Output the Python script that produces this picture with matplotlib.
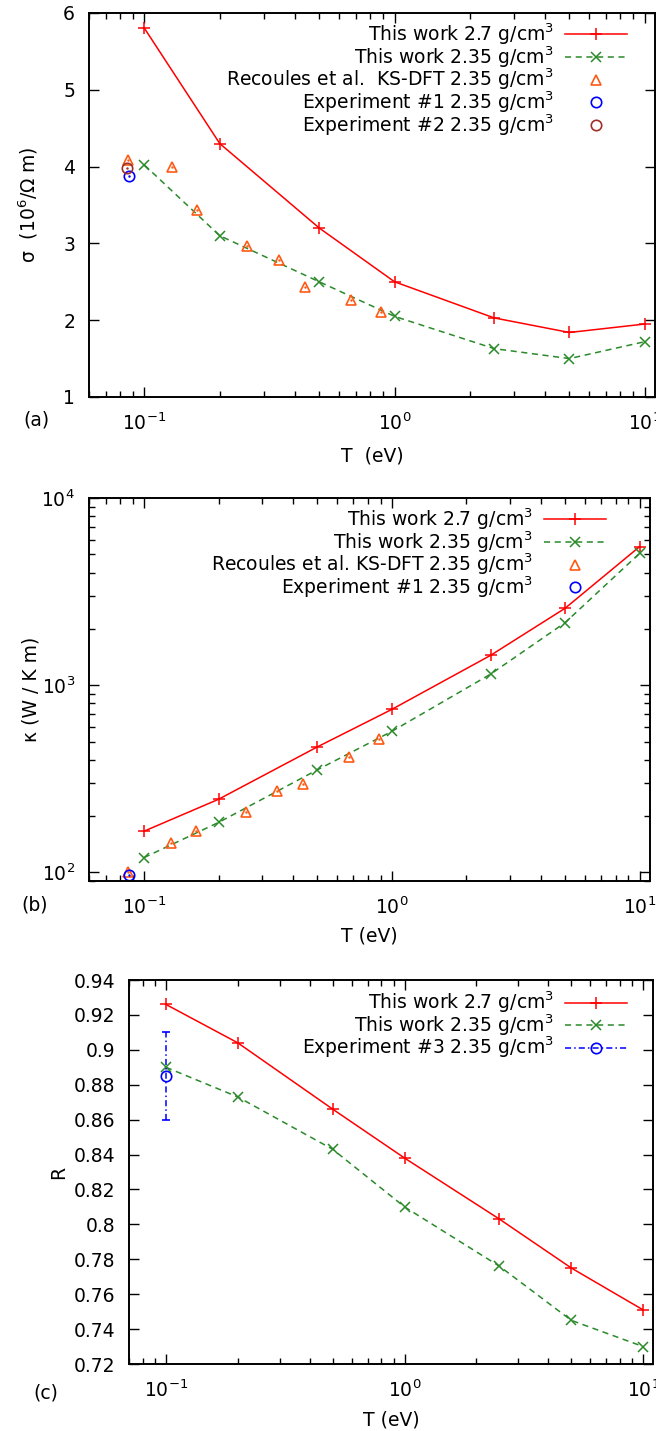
import matplotlib
matplotlib.use("Agg")
import matplotlib.pyplot as plt
from matplotlib.lines import Line2D
from matplotlib.ticker import LogLocator, MultipleLocator, NullFormatter, NullLocator

plt.rcParams["font.family"] = ["DejaVu Sans"]
plt.rcParams["mathtext.default"] = "regular"
plt.rcParams["axes.unicode_minus"] = False
plt.rcParams["font.size"] = 13.5

# ---------------------------------------------------------------------------
# Data
# ---------------------------------------------------------------------------
T_calc = [0.1, 0.2, 0.5, 1.0, 2.5, 5.0, 10.0]
T_recoules = [0.086, 0.129, 0.162, 0.258, 0.344, 0.44, 0.67, 0.886]

sigma_27 = [5.8, 4.3, 3.2, 2.5, 2.03, 1.84, 1.95]
sigma_235 = [4.02, 3.1, 2.5, 2.05, 1.63, 1.5, 1.72]
sigma_recoules = [4.08, 4.0, 3.43, 2.97, 2.78, 2.43, 2.26, 2.11]
T_exp1, sigma_exp1 = [0.087], [3.88]
T_exp2, sigma_exp2 = [0.085], [3.98]

kappa_27 = [166, 246, 468, 743, 1443, 2577, 5506]
kappa_235 = [120, 185, 353, 567, 1145, 2159, 5070]
kappa_recoules = [101, 143, 167, 210, 272, 297, 413, 514]
kappa_exp1 = [97]

R_27 = [0.926, 0.904, 0.866, 0.838, 0.803, 0.775, 0.751]
R_235 = [0.89, 0.873, 0.843, 0.81, 0.776, 0.745, 0.73]
T_exp3, R_exp3, R_exp3_err = [0.1], [0.885], [0.025]

LBL_27 = "This work 2.7 g/cm$^3$"
LBL_235 = "This work 2.35 g/cm$^3$"
C_RED, C_GREEN, C_ORANGE, C_BLUE, C_BROWN = "#ff0000", "#2a8a2a", "#ff5a14", "#0000ff", "#a0302a"

W, H = 656, 1431
fig = plt.figure(figsize=(W / 100, H / 100), dpi=100)


def px_axes(l, r, t, b):
    return fig.add_axes([l / W, 1 - b / H, (r - l) / W, (b - t) / H])


def style(ax, logy=False):
    ax.set_xscale("log")
    ax.xaxis.set_major_locator(LogLocator(base=10))
    ax.xaxis.set_minor_locator(LogLocator(base=10, subs=range(2, 10)))
    ax.xaxis.set_minor_formatter(NullFormatter())
    if logy:
        ax.set_yscale("log")
        ax.yaxis.set_minor_locator(LogLocator(base=10, subs=range(2, 10)))
        ax.yaxis.set_minor_formatter(NullFormatter())
    else:
        ax.yaxis.set_minor_locator(NullLocator())
    ax.tick_params(which="both", direction="in", top=True, right=True, width=1.0)
    ax.tick_params(which="major", length=7)
    ax.tick_params(which="minor", length=4)
    ax.tick_params(axis="y", which="both", pad=10)
    ax.tick_params(axis="x", which="both", pad=11)
    for s in ax.spines.values():
        s.set_linewidth(1.4)


def calc_lines(ax, y27, y235):
    ax.plot(T_calc, y27, "-+", color=C_RED, lw=1.1, ms=8, mew=1.1, label=LBL_27)
    ax.plot(T_calc, y235, "--x", color=C_GREEN, lw=1.1, ms=7, mew=1.1,
            dashes=(4, 3), label=LBL_235)


def open_pts(ax, x, y, marker, color, label, ms):
    ax.plot(x, y, ls="none", marker=marker, ms=ms, mfc="none", mec=color, mew=1.2, label=label)
    ax.plot(x, y, ls="none", marker=".", ms=1.5, color=color)


def legend(ax, x, y, handles=None, labels=None):
    kw = dict(loc="upper right", bbox_to_anchor=(x, y), frameon=False, markerfirst=False,
              handlelength=3.3, labelspacing=-0.15, borderaxespad=0, borderpad=0,
              handletextpad=0.6, fontsize=13.5)
    if handles is not None:
        return ax.legend(handles, labels, **kw)
    return ax.legend(**kw)


# ---- (a) conductivity ----
axA = px_axes(89, 655, 13, 397)
style(axA)
calc_lines(axA, sigma_27, sigma_235)
open_pts(axA, T_recoules, sigma_recoules, "^", C_ORANGE, "Recoules et al.  KS-DFT 2.35 g/cm$^3$", 7)
open_pts(axA, T_exp1, sigma_exp1, "o", C_BLUE, "Experiment #1 2.35 g/cm$^3$", 7.5)
open_pts(axA, T_exp2, sigma_exp2, "o", C_BROWN, "Experiment #2 2.35 g/cm$^3$", 7.5)
axA.set_xlim(0.06, 11)
axA.set_ylim(1, 6)
axA.yaxis.set_major_locator(MultipleLocator(1))
axA.set_xlabel("T  (eV)")
axA.xaxis.set_label_coords(0.5, -0.128)
axA.set_ylabel("σ  (10$^6$/Ω m)")
axA.yaxis.set_label_coords(-0.087, 0.5)
legend(axA, 0.9505, 0.978)
fig.text(36 / W, 1 - 420 / H, "(a)", ha="center", va="center")

# ---- (b) thermal conductivity ----
axB = px_axes(89, 650, 498, 881)
style(axB, logy=True)
calc_lines(axB, kappa_27, kappa_235)
open_pts(axB, T_recoules, kappa_recoules, "^", C_ORANGE, "Recoules et al. KS-DFT 2.35 g/cm$^3$", 7)
open_pts(axB, T_exp1, kappa_exp1, "o", C_BLUE, "Experiment #1 2.35 g/cm$^3$", 7.5)
axB.set_xlim(0.06, 11)
axB.set_ylim(90, 1e4)
axB.set_xlabel("T (eV)")
axB.xaxis.set_label_coords(0.5, -0.118)
axB.set_ylabel("κ (W / K m)")
axB.yaxis.set_label_coords(-0.087, 0.5)
legend(axB, 0.9216, 0.978)
fig.text(35 / W, 1 - 905 / H, "(b)", ha="center", va="center")

# ---- (c) reflectivity ----
axC = px_axes(129, 653, 980, 1364)
style(axC)
calc_lines(axC, R_27, R_235)
eb = axC.errorbar(T_exp3, R_exp3, yerr=R_exp3_err, fmt="o", ms=7.5, mfc="none", mec=C_BLUE,
                  mew=1.2, color=C_BLUE, ecolor=C_BLUE, elinewidth=1.1, capsize=3)
eb[2][0].set_linestyle((0, (4, 2, 1, 2)))
axC.set_xlim(0.07, 11)
axC.set_ylim(0.72, 0.94)
axC.yaxis.set_major_locator(MultipleLocator(0.02))
axC.yaxis.set_major_formatter(plt.FuncFormatter(lambda v, p: f"{v:.2f}".rstrip("0")))
axC.set_xlabel("T (eV)")
axC.xaxis.set_label_coords(0.5, -0.122)
axC.set_ylabel("R")
axC.yaxis.set_label_coords(-0.116, 0.5)
h, l = axC.get_legend_handles_labels()
exp3_proxy = Line2D([], [], color=C_BLUE, lw=1.1, ls=(0, (4, 2, 1, 2)), marker="o", ms=7.5,
                    mfc="none", mec=C_BLUE, mew=1.2)
legend(axC, 0.950, 0.975, h + [exp3_proxy], l + ["Experiment #3 2.35 g/cm$^3$"])
fig.text(46 / W, 1 - 1393 / H, "(c)", ha="center", va="center")

fig.savefig("out.png", dpi=100)
